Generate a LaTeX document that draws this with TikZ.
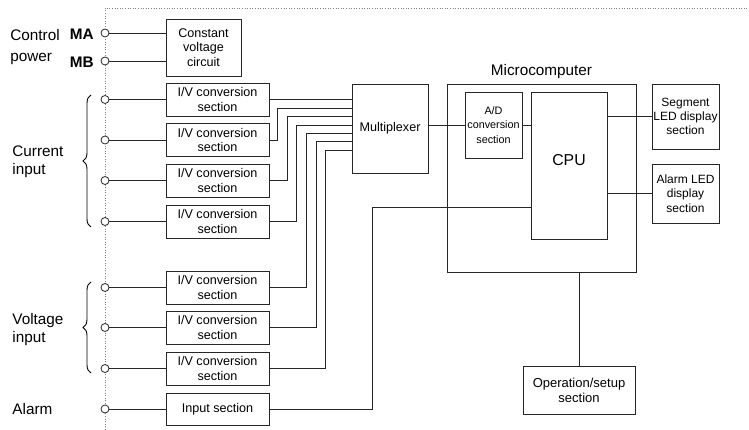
\documentclass[tikz,border=0pt]{standalone}
\usepackage{fontspec}
\setmainfont{Liberation Sans}
\usetikzlibrary{decorations.pathreplacing}
\begin{document}
\begin{tikzpicture}[x=1pt,y=-1pt,line width=0.8pt,
  blk/.style={draw=black!85,line width=0.9pt,inner sep=0pt,align=center,font=\fontsize{12.6}{14.5}\selectfont},
  term/.style={circle,draw=black!85,fill=white,line width=0.8pt,minimum size=8pt,inner sep=0pt},
  lbl/.style={anchor=west,align=left,inner sep=0pt,font=\fontsize{15.3}{18}\selectfont},
  wire/.style={draw=black!85,line width=0.9pt}]
\useasboundingbox[fill=white] (0,0) rectangle (749,430);
% frame
\draw[gray,line width=0.9pt,dash pattern=on 1pt off 1.6pt] (105,430) -- (105,8) -- (749,8);
% blocks
\node[blk,minimum width=75pt,minimum height=57pt] (cv) at (203.5,47.5) {Constant\\voltage\\circuit};
\foreach \n/\y in {iv1/99.5,iv2/140,iv3/180.5,iv4/221.5,iv5/287.5,iv6/327.5,iv7/368.5}{
  \node[blk,minimum width=103pt,minimum height=33pt] (\n) at (217.5,\y) {I/V conversion\\section};
}
\node[blk,minimum width=103pt,minimum height=32pt] (inp) at (217.5,409) {Input section};
\node[blk,minimum width=76pt,minimum height=89pt] (mux) at (390,128.5) {Multiplexer};
\node[blk,minimum width=189pt,minimum height=188pt] (micro) at (541.5,178) {};
\node[anchor=south,inner sep=0pt,font=\fontsize{15.3}{18}\selectfont] (microlbl) at (541.5,79) {Microcomputer};
\node[blk,minimum width=57pt,minimum height=66pt,font=\fontsize{10.8}{14.5}\selectfont] (ad) at (493.5,125) {A/D\\conversion\\section};
\node[blk,minimum width=76pt,minimum height=147pt,font=\fontsize{15.8}{18}\selectfont] (cpu) at (569,165.5) {};
\node[inner sep=0pt,font=\fontsize{15.8}{18}\selectfont] (cputxt) at (569,160) {CPU};
\node[blk,minimum width=67pt,minimum height=65pt,font=\fontsize{12}{14.3}\selectfont] (seg) at (685.5,116.5) {Segment\\LED display\\section};
\node[blk,minimum width=67pt,minimum height=59pt,font=\fontsize{12}{14.3}\selectfont] (alm) at (685.5,193.5) {Alarm LED\\display\\section};
\node[blk,minimum width=112pt,minimum height=48pt,font=\fontsize{13}{15}\selectfont] (op) at (579,390) {Operation/setup\\section};
% terminals
\foreach \n/\y in {tma/33,tmb/61,t1/99.5,t2/140,t3/180.5,t4/221.5,t5/287.5,t6/327.5,t7/368.5,ta/409}{
  \node[term] (\n) at (105,\y) {};
}
% left labels
\node[lbl,font=\fontsize{15.3}{21}\selectfont] (ctl) at (10,47) {Control\\power};
\node[anchor=east,inner sep=0pt,font=\fontsize{15.3}{18}\selectfont\bfseries] (ma) at (94,34) {MA};
\node[anchor=east,inner sep=0pt,font=\fontsize{15.3}{18}\selectfont\bfseries] (mb) at (94,62) {MB};
\node[lbl] (cur) at (12,162) {Current\\input};
\node[lbl] (vol) at (12,330) {Voltage\\input};
\node[lbl] (alr) at (12,409) {Alarm};
% braces
\draw[line width=0.9pt,decorate,decoration={brace,amplitude=8pt}] (91,227) -- (91,95);
\draw[line width=0.9pt,decorate,decoration={brace,amplitude=8pt}] (91,373) -- (91,282);
% terminal wires
\draw[wire] (tma) -- (tma -| cv.west);
\draw[wire] (tmb) -- (tmb -| cv.west);
\foreach \t/\b in {t1/iv1,t2/iv2,t3/iv3,t4/iv4,t5/iv5,t6/iv6,t7/iv7,ta/inp}{
  \draw[wire] (\t) -- (\b.west);
}
% mux inputs
\coordinate (m1) at (352,108.3);
\coordinate (m2) at (352,116.7);
\coordinate (m3) at (352,125);
\coordinate (m4) at (352,133.3);
\coordinate (m5) at (352,141.7);
\coordinate (m6) at (352,150);
\draw[wire] (iv1.east) -- (iv1.east -| mux.west);
\draw[wire] (iv2.east) -- ++(8,0) |- (m1);
\draw[wire] (iv3.east) -- ++(18,0) |- (m2);
\draw[wire] (iv4.east) -- ++(27,0) |- (m3);
\draw[wire] (iv5.east) -- ++(37,0) |- (m4);
\draw[wire] (iv6.east) -- ++(47,0) |- (m5);
\draw[wire] (iv7.east) -- ++(56,0) |- (m6);
% micro connections
\draw[wire] (ad.west) -- (ad.west -| mux.east);
\draw[wire] (ad.east) -- (ad.east -| cpu.west);
\draw[wire] (seg.west) -- (seg.west -| cpu.east);
\draw[wire] (alm.west) -- (alm.west -| cpu.east);
\coordinate (al) at (531,207);
\draw[wire] (inp.east) -- ++(103,0) |- (al);
\draw[wire] (op.north) -- (op.north |- micro.south);
\end{tikzpicture}
\end{document}
